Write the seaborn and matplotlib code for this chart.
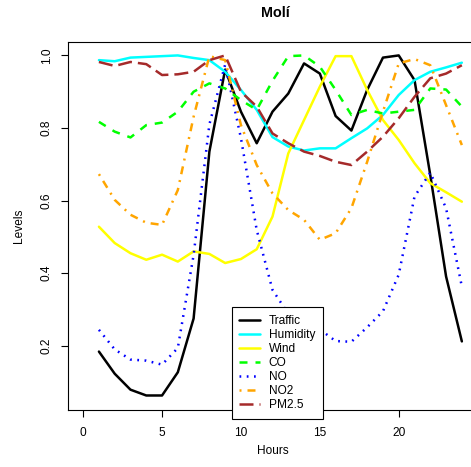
import numpy as np
import pandas as pd
import matplotlib
matplotlib.use("Agg")
import matplotlib.pyplot as plt
import seaborn as sns

# hourly normalised levels at Molí
hours = list(range(1, 25))
traffic = [0.184, 0.123, 0.079, 0.063, 0.063, 0.127, 0.275, 0.735, 0.961, 0.845, 0.758, 0.845,
           0.895, 0.978, 0.950, 0.833, 0.793, 0.905, 0.994, 1.000, 0.932, 0.670, 0.391, 0.212]
humidity = [0.987, 0.984, 0.994, 0.996, 0.998, 1.000, 0.993, 0.987, 0.955, 0.905, 0.850, 0.775,
            0.749, 0.738, 0.744, 0.744, 0.772, 0.799, 0.836, 0.891, 0.932, 0.955, 0.967, 0.980]
wind = [0.528, 0.483, 0.455, 0.437, 0.451, 0.432, 0.460, 0.453, 0.428, 0.439, 0.466, 0.556,
        0.730, 0.822, 0.914, 0.998, 0.998, 0.905, 0.822, 0.767, 0.703, 0.648, 0.623, 0.597]
co = [0.817, 0.790, 0.774, 0.808, 0.815, 0.845, 0.900, 0.923, 0.909, 0.877, 0.850, 0.930,
      0.998, 1.000, 0.969, 0.905, 0.836, 0.850, 0.840, 0.845, 0.850, 0.909, 0.906, 0.859]
no = [0.244, 0.190, 0.162, 0.159, 0.148, 0.194, 0.450, 0.810, 0.975, 0.772, 0.519, 0.354,
      0.288, 0.269, 0.245, 0.213, 0.211, 0.251, 0.295, 0.396, 0.611, 0.677, 0.579, 0.363]
no2 = [0.673, 0.602, 0.561, 0.539, 0.533, 0.629, 0.831, 0.998, 0.987, 0.808, 0.698, 0.620,
       0.574, 0.547, 0.492, 0.510, 0.579, 0.707, 0.845, 0.978, 0.990, 0.973, 0.863, 0.753]
pm25 = [0.982, 0.971, 0.982, 0.976, 0.946, 0.948, 0.955, 0.987, 1.000, 0.900, 0.859, 0.785,
        0.758, 0.735, 0.723, 0.707, 0.698, 0.735, 0.776, 0.827, 0.886, 0.937, 0.950, 0.973]

names = ["Traffic", "Humidity", "Wind", "CO", "NO", "NO2", "PM2.5"]
series = [traffic, humidity, wind, co, no, no2, pm25]
colors = ["black", "cyan", "yellow", "#00FF00", "blue", "orange", "brown"]
styles = ["-", "-", "-", (0, (3.2, 3.2)), (0, (0.7, 2.2)),
          (0, (0.8, 2.4, 3.2, 2.4)), (0, (5.6, 2.4))]

df = pd.DataFrame({"Hours": hours})
for n, s in zip(names, series):
    df[n] = s

sns.set_style("ticks")
plt.rcParams["font.family"] = ["Liberation Sans", "DejaVu Sans"]
plt.rcParams["text.color"] = "black"
plt.rcParams["axes.labelcolor"] = "black"
plt.rcParams["xtick.color"] = "black"
plt.rcParams["ytick.color"] = "black"

W, H = 471, 467
fig = plt.figure(figsize=(W / 100, H / 100), dpi=100)
ax = fig.add_axes([68 / W, (H - 410) / H, 409 / W, 368 / H])

for n, c, ls in zip(names, colors, styles):
    sns.lineplot(data=df, x="Hours", y=n, color=c, linestyle=ls, linewidth=1.8,
                 ax=ax, label=n)

ax.set_xlim(-0.96, 24.96)
ax.set_ylim(0.023, 1.037)
ax.set_xticks([0, 5, 10, 15, 20])
ax.set_yticks([0.2, 0.4, 0.6, 0.8, 1.0])
ax.set_yticklabels(["0.2", "0.4", "0.6", "0.8", "1.0"], rotation=90, va="center")
ax.tick_params(axis="both", length=5, width=0.8, labelsize=8.6,
               color="black", labelcolor="black")
ax.tick_params(axis="x", pad=7)
ax.tick_params(axis="y", pad=6)
for sp in ax.spines.values():
    sp.set_visible(True)
    sp.set_color("black")
    sp.set_linewidth(0.8)

ax.set_xlabel("Hours", fontsize=8.6, va="center", color="black")
ax.xaxis.set_label_coords(0.5, -(451 - 410) / 368)
ax.set_ylabel("Levels", fontsize=8.6, va="center", color="black")
ax.yaxis.set_label_coords(-(68 - 19) / 409, 0.5)

fig.text(275 / W, 1 - 13 / H, "Molí", ha="center", va="center",
         fontsize=10.4, fontweight="bold", color="black")

leg = ax.legend(loc="upper left", bbox_to_anchor=(0.400, 0.279), borderaxespad=0,
                fancybox=False, frameon=True, edgecolor="black", fontsize=8.6,
                labelspacing=0.17, handlelength=1.7, handletextpad=0.75,
                borderpad=0.66)
leg.get_frame().set_linewidth(0.8)
leg.get_frame().set_alpha(1)
for t in leg.get_texts():
    t.set_color("black")

fig.savefig("out.png", dpi=100)
